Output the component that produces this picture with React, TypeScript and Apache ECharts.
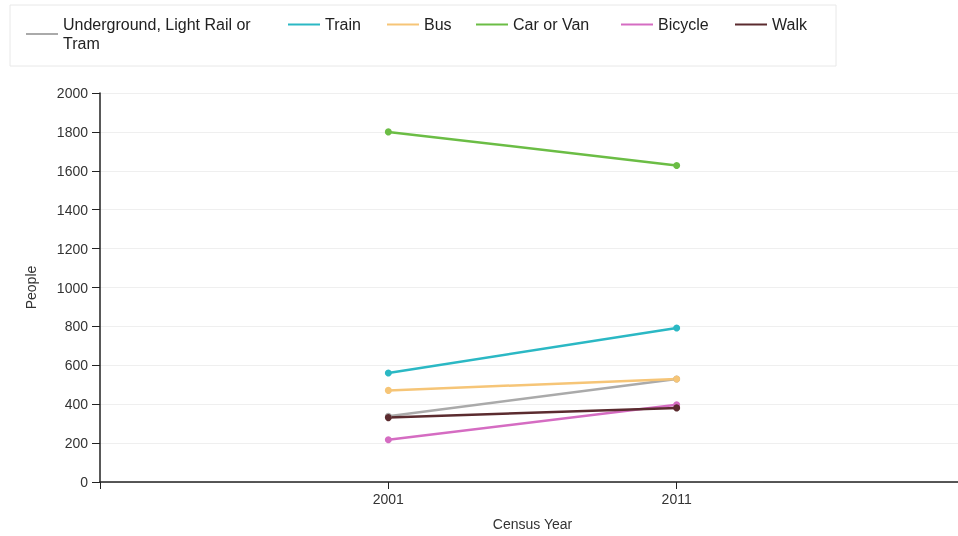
import React, { useEffect, useRef } from "react";
import * as echarts from "echarts";

const years = ["2001", "2011"];
const seriesNames = ["Underground, Light Rail or Tram", "Train", "Bus", "Car or Van", "Bicycle", "Walk"];
const underground = [338, 530];
const train = [560, 792];
const bus = [471, 530];
const carOrVan = [1800, 1627];
const bicycle = [217, 397];
const walk = [331, 381];
const yTicks = [0, 200, 400, 600, 800, 1000, 1200, 1400, 1600, 1800, 2000];

const colors = ["#aaaaaa", "#2bb8c4", "#f6c577", "#6bbd45", "#d56cc2", "#5b2b2f"];
const values = [underground, train, bus, carOrVan, bicycle, walk];
const legendLefts = [26, 288, 387, 476, 621, 735];

export default function App() {
  const ref = useRef<HTMLDivElement>(null);
  useEffect(() => {
    if (!ref.current) return;
    const chart = echarts.init(ref.current, undefined, { renderer: "svg" });
    const cats = ["", ...years, ""];
    const font = "'Liberation Sans', Arial, sans-serif";
    chart.setOption({
      animation: false,
      textStyle: { fontFamily: font },
      graphic: [
        {
          type: "rect",
          shape: { x: 10, y: 5, width: 826, height: 61 },
          style: { fill: "#fff", stroke: "#e8e8e8", lineWidth: 1 },
          z: -1,
        },
      ],
      legend: seriesNames.map((n, i) => ({
        data: [n],
        left: legendLefts[i],
        top: 15,
        padding: 0,
        icon: "rect",
        itemWidth: 32,
        itemHeight: 2,
        formatter: (name: string) => (name === seriesNames[0] ? "Underground, Light Rail or\nTram" : name),
        textStyle: { fontSize: 16, color: "#222", lineHeight: 19, fontFamily: font },
      })),
      grid: { left: 100, right: 5, top: 93, bottom: 48, containLabel: false },
      xAxis: {
        type: "category",
        data: cats,
        boundaryGap: false,
        name: "Census Year",
        nameLocation: "middle",
        nameGap: 35,
        nameTextStyle: { fontSize: 14, color: "#333" },
        axisLine: { lineStyle: { color: "#222", width: 1.5 } },
        axisTick: { show: true, length: 7, lineStyle: { color: "#222" } },
        axisLabel: { fontSize: 14, color: "#333", margin: 10 },
        splitLine: { show: false },
      },
      yAxis: {
        type: "value",
        min: yTicks[0],
        max: yTicks[yTicks.length - 1],
        interval: yTicks[1] - yTicks[0],
        name: "People",
        nameLocation: "middle",
        nameGap: 62,
        nameTextStyle: { fontSize: 14, color: "#333" },
        axisLine: { show: true, lineStyle: { color: "#222", width: 1.5 } },
        axisTick: { show: true, length: 8, lineStyle: { color: "#222" } },
        axisLabel: { fontSize: 14, color: "#333", margin: 12, formatter: (v: number) => String(v) },
        splitLine: { show: true, lineStyle: { color: "#efefef" } },
      },
      series: seriesNames.map((n, i) => ({
        name: n,
        type: "line",
        data: [null, ...values[i], null],
        color: colors[i],
        symbol: "circle",
        symbolSize: 7,
        lineStyle: { width: 2.5, color: colors[i] },
        itemStyle: { color: colors[i] },
      })),
    });
    return () => chart.dispose();
  }, []);
  return <div ref={ref} style={{ position: "fixed", left: 0, top: 0, width: 970, height: 536 }} />;
}
